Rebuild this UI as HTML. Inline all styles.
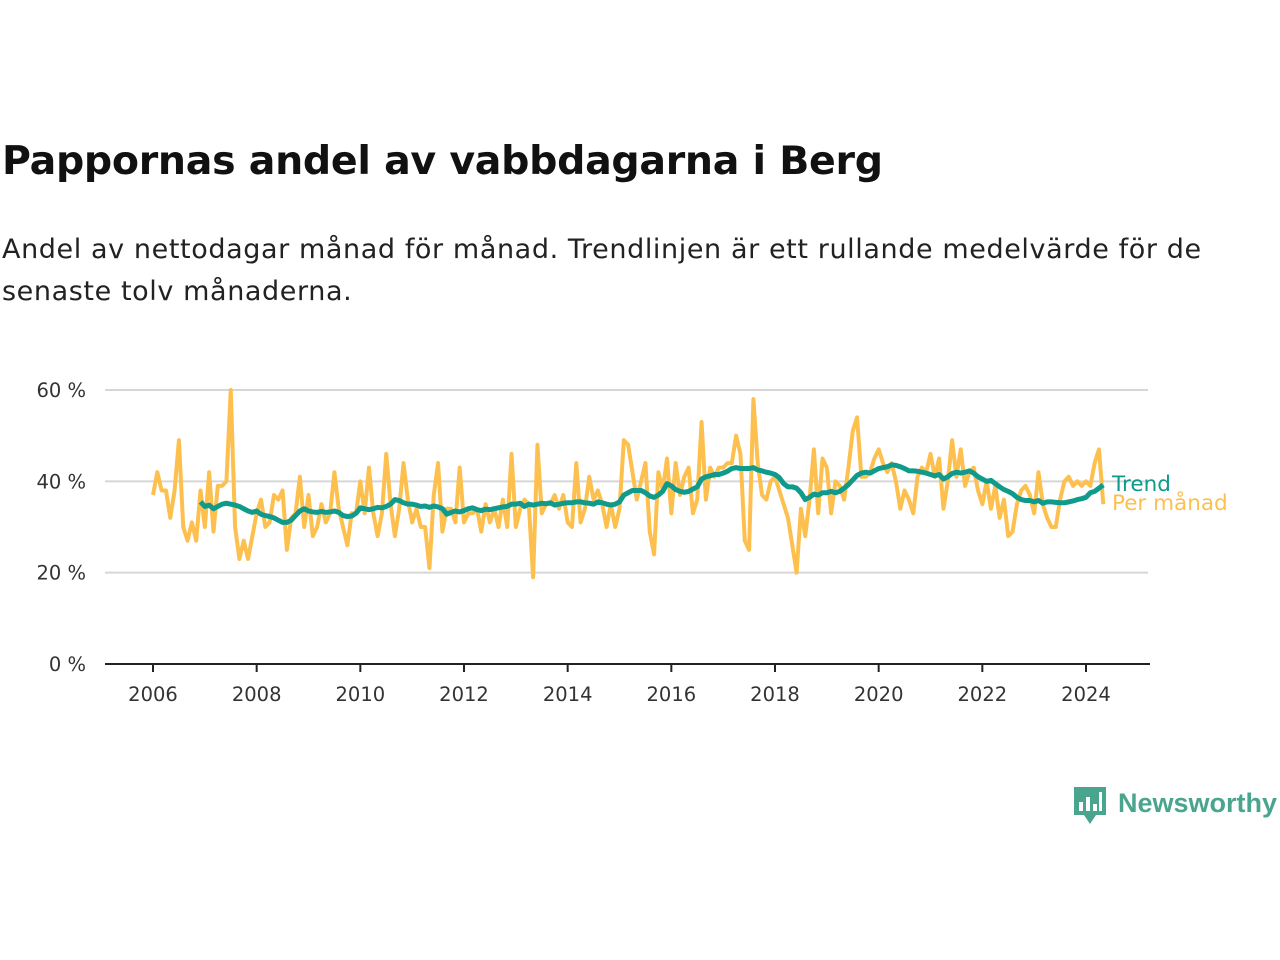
<!DOCTYPE html>
<html><head><meta charset="utf-8"><style>
body{margin:0;background:#fff;width:1280px;height:960px;overflow:hidden;font-family:"DejaVu Sans",sans-serif;}
#title{position:absolute;left:2px;top:138px;font-size:39.5px;font-weight:bold;color:#111;margin:0;font-family:"DejaVu Sans",sans-serif;letter-spacing:-0.3px}
#sub{position:absolute;left:2px;top:229px;width:1240px;font-size:27px;line-height:42px;color:#222;margin:0;font-family:"DejaVu Sans",sans-serif;letter-spacing:0.6px}
svg{position:absolute;left:0;top:0}
</style></head><body>
<h1 id="title">Pappornas andel av vabbdagarna i Berg</h1>
<p id="sub">Andel av nettodagar månad för månad. Trendlinjen är ett rullande medelvärde för de senaste tolv månaderna.</p>
<svg id="chart" width="1280" height="960"></svg>
<script>
const monthly=[37,42,38,38,32,38,49,30,27,31,27,38,
30,42,29,39,39,40,60,30,23,27,23,28,
33,36,30,31,37,36,38,25,32,33,41,30,
37,28,30,35,31,33,42,34,30,26,33,33,
40,33,43,33,28,33,46,35,28,34,44,36,
31,34,30,30,21,37,44,29,34,34,31,43,
31,33,33,34,29,35,31,34,30,36,30,46,
30,34,36,35,19,48,33,35,35,37,34,37,
31,30,44,31,34,41,36,38,35,30,35,30,
34,49,48,42,36,40,44,29,24,42,38,45,
33,44,37,41,43,33,36,53,36,43,41,43,
43,44,44,50,46,27,25,58,44,37,36,40,
41,38,35,32,26,20,34,28,36,47,33,45,
43,33,40,39,36,43,51,54,41,41,42,45,
47,44,42,44,40,34,38,36,33,41,43,42,
46,41,45,34,40,49,41,47,39,42,43,38,
35,40,34,39,32,36,28,29,35,38,39,37,
33,42,35,32,30,30,36,40,41,39,40,39,
40,39,44,47,35];
const trendStart=11;
const trend=[35.5,
34.5,34.8,34,34.5,35,35.2,35,34.8,34.5,34,33.5,33.2,
33.5,32.8,32.5,32.3,32,31.5,31,31,31.5,32.5,33.5,34,
33.5,33.3,33.2,33.4,33.2,33.3,33.5,33.2,32.5,32.3,32.4,33,
34.2,34,33.8,34,34.3,34.2,34.5,35,36,35.8,35.3,35,
35,34.8,34.5,34.6,34.3,34.6,34.4,34,32.8,33.2,33.5,33.3,
33.6,34,34.2,33.8,33.6,33.9,33.8,34,34.2,34.4,34.5,35,
35,35.2,34.5,35,34.8,35,35.2,35.1,35.3,34.8,35,35.2,
35.3,35.3,35.5,35.5,35.3,35.2,35,35.5,35.3,35,34.8,35,
35.5,37,37.5,38,38,38,37.5,36.8,36.5,37,37.8,39.5,
39,38.2,37.8,37.6,37.8,38.3,38.8,40.5,41,41.2,41.5,41.5,
41.8,42.2,42.8,43,42.8,42.8,42.8,43,42.5,42.3,42,41.8,
41.5,40.8,39.5,38.8,38.8,38.5,37.5,36,36.5,37.2,37,37.5,
37.5,37.8,37.5,37.8,38.5,39.3,40.3,41.3,41.8,42,41.8,42.3,
42.8,43,43.2,43.6,43.5,43.2,42.8,42.3,42.3,42.2,42,41.8,
41.5,41.2,41.5,40.5,41,41.7,42,41.8,42,42.3,41.8,41,
40.5,40,40.2,39.5,38.8,38.2,37.8,37.3,36.5,36,35.8,35.8,
35.5,35.8,35.2,35.5,35.5,35.4,35.3,35.3,35.5,35.7,36,36.2,
36.5,37.5,37.8,38.5,39.2];
const yTicks=[0,20,40,60];
const yTickLabels=["0 %","20 %","40 %","60 %"];
const xTicks=[2006,2008,2010,2012,2014,2016,2018,2020,2022,2024];

const NS="http://www.w3.org/2000/svg";
const svg=document.getElementById('chart');
const x0=153,x1=1086;
const FF='DejaVu Sans, sans-serif';
function xScale(i){return x0+(x1-x0)*i/(18*12);}
function xYear(y){return x0+(x1-x0)*(y-2006)/18;}
function yScale(v){return 664-v*(664-390)/60;}
function mk(tag,attrs){const e=document.createElementNS(NS,tag);for(const k in attrs)e.setAttribute(k,attrs[k]);svg.appendChild(e);return e;}
yTicks.forEach((t,i)=>{
  if(t>0){const g=mk('line',{x1:105,x2:1148,y1:yScale(t),y2:yScale(t),stroke:'#d6d6d6','stroke-width':2});
  
  }
  const tx=mk('text',{x:86,y:yScale(t)+7,'text-anchor':'end','font-size':19.5,fill:'#333','font-family':FF});
  tx.textContent=yTickLabels[i];
  
  
});
const ax=mk('line',{x1:105,x2:1150,y1:664,y2:664,stroke:'#222','stroke-width':2});


xTicks.forEach(y=>{
  const tk=mk('line',{x1:xYear(y),x2:xYear(y),y1:664,y2:672,stroke:'#222','stroke-width':2});
  
  
  const tx=mk('text',{x:xYear(y),y:701,'text-anchor':'middle','font-size':19.5,fill:'#333','font-family':FF});
  tx.textContent=y;
  
  
});
const mp=mk('polyline',{points:monthly.map((v,i)=>xScale(i)+','+yScale(v)).join(' '),fill:'none',stroke:'#fdc04e','stroke-width':4,'stroke-linejoin':'round'});


const tp=mk('polyline',{points:trend.map((v,i)=>xScale(i+trendStart)+','+yScale(v)).join(' '),fill:'none',stroke:'#0f9a8c','stroke-width':5,'stroke-linejoin':'round'});


const l1=mk('text',{x:1112,y:491,'font-size':21.5,fill:'#0f9a8c','font-family':FF});
l1.textContent='Trend';


const l2=mk('text',{x:1112,y:510,'font-size':21.5,fill:'#fdc04e','font-family':FF});
l2.textContent='Per månad';


const lg=mk('g',{});


lg.innerHTML='<path d="M1074 787 h32 v28 h-10 l-6 9 l-6 -9 h-10 z" fill="#4aa58e"/><rect x="1079" y="802" width="4" height="9" fill="#fff"/><rect x="1086" y="797" width="4" height="14" fill="#fff"/><rect x="1093" y="804" width="4" height="7" fill="#fff"/><rect x="1099" y="792" width="3" height="19" fill="#fff"/><text x="1118" y="812" font-size="27" font-weight="bold" fill="#4aa58e" font-family="Liberation Sans, sans-serif">Newsworthy</text>';
</script>
</body></html>
